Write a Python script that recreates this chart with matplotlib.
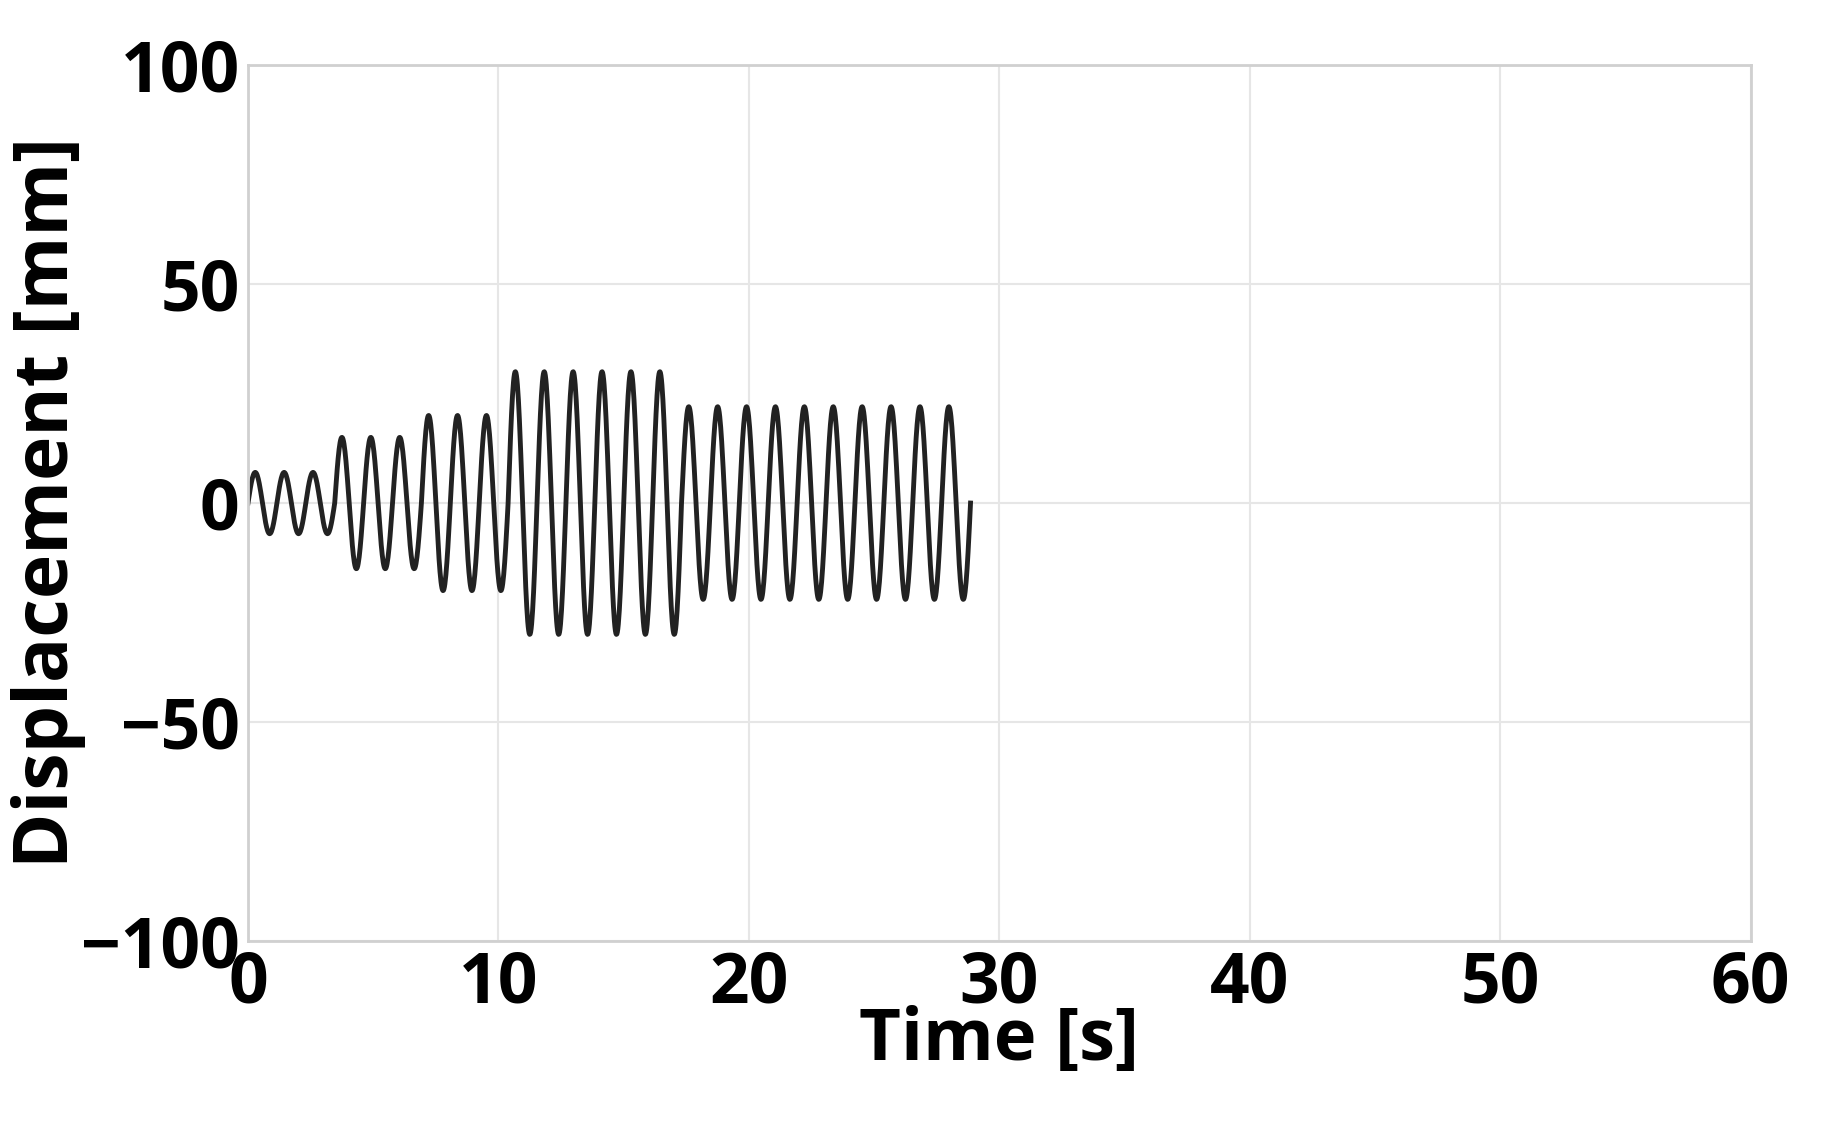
import numpy as np
import matplotlib
matplotlib.use("Agg")
import matplotlib.pyplot as plt

# Amplitude of each oscillation cycle (mm)
cycle_amplitudes = [7, 7, 7, 15, 15, 15, 20, 20, 20,
                    30, 30, 30, 30, 30, 30,
                    22, 22, 22, 22, 22, 22, 22, 22, 22, 22]
period = 1.154  # s
xticks = [0, 10, 20, 30, 40, 50, 60]
yticks = [-100, -50, 0, 50, 100]

t_parts, y_parts = [], []
for i, a in enumerate(cycle_amplitudes):
    tt = np.linspace(i * period, (i + 1) * period, 60)
    t_parts.append(tt)
    y_parts.append(a * np.sin(2 * np.pi * (tt - i * period) / period))
t = np.concatenate(t_parts)
y = np.concatenate(y_parts)

plt.rcParams['font.family'] = ['Open Sans', 'DejaVu Sans']
fig = plt.figure(figsize=(18.37, 11.42), dpi=100)
ax = fig.add_axes([0.135, 0.176, 0.818, 0.767])
ax.plot(t, y, color='#222222', lw=3.5)
ax.set_xlim(0, 60)
ax.set_ylim(-100, 100)
ax.set_xticks(xticks)
ax.set_yticks(yticks)
ax.set_yticklabels(['\u2212100', '\u221250', '0', '50', '100'])
ax.grid(True, color='#e6e6e6', lw=1.5)
for s in ax.spines.values():
    s.set_color('#d0d0d0')
    s.set_linewidth(2)
ax.tick_params(length=0, labelsize=50, pad=6)
for lab in ax.get_xticklabels() + ax.get_yticklabels():
    lab.set_fontweight('bold')
ax.set_xlabel('Time [s]', fontsize=52, fontweight='bold', labelpad=-10)
ax.set_ylabel('Displacement [mm]', fontsize=54, fontweight='bold', labelpad=-4)
fig.savefig('out.png', dpi=100)
